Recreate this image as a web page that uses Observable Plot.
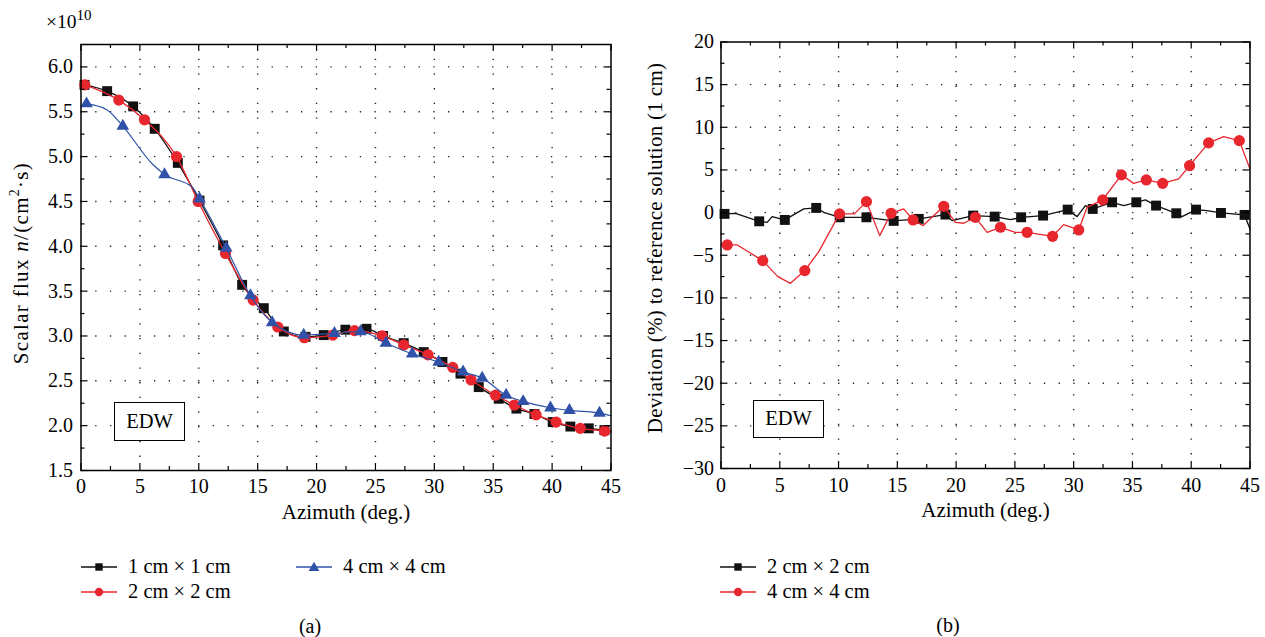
<!DOCTYPE html>
<html><head><meta charset="utf-8">
<script src="https://cdn.jsdelivr.net/npm/d3@7"></script>
<script src="https://cdn.jsdelivr.net/npm/@observablehq/plot@0.6"></script>
<style>
body{margin:0;background:#fff}
#wrap{position:relative;width:1265px;height:637px;overflow:hidden;font-family:"Liberation Serif",serif;color:#000;background:#fff}
.box{position:absolute;border:1.3px solid #000;box-sizing:border-box;display:flex;align-items:center;justify-content:center;font-size:20.5px;background:#fff}
.leg{position:absolute;display:flex;align-items:center;height:24px;font-size:20.5px;white-space:nowrap}
.leg svg{margin-right:11px}
.cap{position:absolute;font-size:20px;transform:translate(-50%,-50%)}
</style></head>
<body><div id="wrap"></div>
<script>
// ---------- (a) Scalar flux (×10^10 n/(cm²·s)) ----------
const az1cmLine   = [0.3,2.22,4.43,6.26,8.22,10.06,12.07,13.68,15.52,17.22,19.06,20.61,22.45,24.24,25.65,27.40,29.10,30.69,32.22,33.77,35.47,36.97,38.50,40.05,41.55,43.11,44.44,45];
const flux1cmLine = [5.80,5.73,5.56,5.31,4.93,4.51,4.01,3.57,3.31,3.05,2.99,3.01,3.07,3.08,3.00,2.92,2.82,2.71,2.58,2.43,2.30,2.19,2.13,2.04,1.99,1.97,1.95,1.94];
const az1cmMk     = [0.3,2.22,4.43,6.26,8.22,10.06,12.07,13.68,15.52,17.22,19.06,20.61,22.45,24.24,25.65,27.40,29.10,30.69,32.22,33.77,35.47,36.97,38.50,40.05,41.55,43.11,44.44];
const flux1cmMk   = [5.80,5.73,5.56,5.31,4.93,4.51,4.01,3.57,3.31,3.05,2.99,3.01,3.07,3.08,3.00,2.92,2.82,2.71,2.58,2.43,2.30,2.19,2.13,2.04,1.99,1.97,1.95];

const az2cmLine   = [0.32,3.21,5.39,8.11,9.95,12.27,14.62,16.71,18.97,21.38,23.22,25.57,27.40,29.46,31.56,33.12,35.19,36.80,38.64,40.34,42.40,44.46,45];
const flux2cmLine = [5.80,5.63,5.41,5.00,4.50,3.92,3.40,3.10,2.98,3.01,3.06,3.00,2.90,2.79,2.65,2.51,2.34,2.23,2.12,2.04,1.97,1.94,1.93];
const az2cmMk     = [0.32,3.21,5.39,8.11,9.95,12.27,14.62,16.71,18.97,21.38,23.22,25.57,27.40,29.46,31.56,33.12,35.19,36.80,38.64,40.34,42.40,44.46];
const flux2cmMk   = [5.80,5.63,5.41,5.00,4.50,3.92,3.40,3.10,2.98,3.01,3.06,3.00,2.90,2.79,2.65,2.51,2.34,2.23,2.12,2.04,1.97,1.94];

const az4cmLine   = [0.47,2.22,3.55,6.04,7.09,9.44,10.06,12.33,14.39,16.23,18.91,21.52,23.73,25.89,28.12,30.37,32.44,34.06,36.10,37.54,39.86,41.47,44.02,45];
const flux4cmLine = [5.59,5.52,5.34,4.92,4.80,4.66,4.53,3.98,3.45,3.15,3.01,3.03,3.05,2.92,2.80,2.71,2.60,2.53,2.34,2.27,2.20,2.17,2.14,2.11];
const az4cmMk     = [0.47,3.55,7.09,10.06,12.33,14.39,16.23,18.91,21.52,23.73,25.89,28.12,30.37,32.44,34.06,36.10,37.54,39.86,41.47,44.02];
const flux4cmMk   = [5.59,5.34,4.80,4.53,3.98,3.45,3.15,3.01,3.03,3.05,2.92,2.80,2.71,2.60,2.53,2.34,2.27,2.20,2.17,2.14];

// ---------- (b) Deviation (%) to reference solution (1 cm) ----------
const azDev2Line  = [0,0.30,1.23,3.25,3.93,4.35,5.43,7.04,8.10,8.74,10.10,12.37,14.69,16.82,19.09,19.66,21.45,23.28,24.62,25.53,27.40,29.49,30.29,31.0,31.62,33.27,34.25,35.33,36.10,37.01,38.73,39.22,40.41,41.34,42.53,44.54,45];
const dev2Line    = [-0.15,-0.15,-0.08,-1.02,-1.14,-0.47,-0.86,0.43,0.55,0.04,-0.55,-0.55,-0.97,-0.74,-0.23,-0.94,-0.35,-0.47,-0.82,-0.55,-0.35,0.35,-0.47,0.82,0.43,1.21,0.82,1.21,1.49,0.82,-0.08,-0.47,0.35,0.23,-0.04,-0.27,-1.91];
const azDev2Mk    = [0.30,3.25,5.43,8.10,10.10,12.37,14.69,16.82,19.09,21.45,23.28,25.53,27.40,29.49,31.62,33.27,35.33,37.01,38.73,40.41,42.53,44.54];
const dev2Mk      = [-0.15,-1.02,-0.86,0.55,-0.55,-0.55,-0.97,-0.74,-0.23,-0.35,-0.47,-0.55,-0.35,0.35,0.43,1.21,1.21,0.82,-0.08,0.35,-0.04,-0.27];

const azDev4Line  = [0,0.53,1.38,3.55,4.83,5.91,7.13,8.32,10.08,11.35,12.37,13.50,14.47,15.54,16.34,17.19,18.95,19.94,20.65,21.64,22.64,23.77,25.04,26.04,28.21,29.15,30.43,31.14,32.47,34.06,35.10,36.18,37.57,38.93,39.86,41.48,42.76,44.09,45];
const dev4Line    = [-3.79,-3.79,-3.79,-5.63,-7.50,-8.29,-6.80,-4.57,-0.15,-0.15,1.29,-2.70,-0.08,0.43,-0.86,-1.52,0.74,-1.14,-1.25,-0.55,-2.31,-1.72,-2.31,-2.31,-2.78,-1.41,-2.03,0.62,1.49,4.42,3.43,3.83,3.43,3.95,5.51,8.17,8.91,8.44,5.12];
const azDev4Mk    = [0.53,3.55,7.13,10.08,12.37,14.47,16.34,18.95,21.64,23.77,26.04,28.21,30.43,32.47,34.06,36.18,37.57,39.86,41.48,44.09];
const dev4Mk      = [-3.79,-5.63,-6.80,-0.15,1.29,-0.08,-0.86,0.74,-0.55,-1.72,-2.31,-2.78,-2.03,1.49,4.42,3.83,3.43,5.51,8.17,8.44];

// ---------- ticks / labels ----------
const xMajor = [0,5,10,15,20,25,30,35,40,45];
const xMinor = [2.5,7.5,12.5,17.5,22.5,27.5,32.5,37.5,42.5];
const xGrid  = [5,10,15,20,25,30,35,40];
const yMajorA = [1.5,2.0,2.5,3.0,3.5,4.0,4.5,5.0,5.5,6.0];
const yMinorA = [1.75,2.25,2.75,3.25,3.75,4.25,4.75,5.25,5.75];
const yGridA  = [2.0,2.5,3.0,3.5,4.0,4.5,5.0,5.5,6.0];
const yMajorB = [-30,-25,-20,-15,-10,-5,0,5,10,15,20];
const yMinorB = [-27.5,-22.5,-17.5,-12.5,-7.5,-2.5,2.5,7.5,12.5,17.5];
const yGridB  = [-25,-20,-15,-10,-5,0,5,10,15];

const seriesA = ["1 cm × 1 cm","2 cm × 2 cm","4 cm × 4 cm"];
const seriesB = ["2 cm × 2 cm","4 cm × 4 cm"];
const xLabel = "Azimuth (deg.)";
const noteText = "EDW";

const BLACK = "#111", RED = "#e8262d", BLUE = "#2f52a8";
const pts = (xs, ys) => xs.map((x, i) => ({x, y: ys[i]}));
const TICK_FS = 20, TITLE_FS = 21;

function frameMarks(fw, fh, yMajor, yMinor) {
  const s = {stroke: "#000", strokeWidth: 1.2};
  return [
    Plot.tickX(xMajor, {x: d => d, insetTop: fh - 7, ...s}),
    Plot.tickX(xMajor, {x: d => d, insetBottom: fh - 7, ...s}),
    Plot.tickX(xMinor, {x: d => d, insetTop: fh - 4, ...s}),
    Plot.tickX(xMinor, {x: d => d, insetBottom: fh - 4, ...s}),
    Plot.tickY(yMajor, {y: d => d, insetRight: fw - 7, ...s}),
    Plot.tickY(yMajor, {y: d => d, insetLeft: fw - 7, ...s}),
    Plot.tickY(yMinor, {y: d => d, insetRight: fw - 4, ...s}),
    Plot.tickY(yMinor, {y: d => d, insetLeft: fw - 4, ...s}),
    Plot.frame({stroke: "#000", strokeWidth: 1.5})
  ];
}
const gridStyle = {stroke: "#222", strokeWidth: 1.4, strokeDasharray: "1.3,13.4", strokeOpacity: 1};

const wrap = document.getElementById("wrap");

// ----- Panel (a) -----
const A = {w: 632, h: 530, ml: 80.5, mr: 21.5, mt: 44, mb: 60};
const plotA = Plot.plot({
  width: A.w, height: A.h,
  marginLeft: A.ml, marginRight: A.mr, marginTop: A.mt, marginBottom: A.mb,
  style: {fontFamily: "Liberation Serif, serif", fontSize: TICK_FS + "px", color: "#000", background: "transparent"},
  x: {domain: [0, 45]},
  y: {domain: [1.5, 6.25]},
  marks: [
    Plot.ruleX(xGrid, {x: d => d, ...gridStyle}),
    Plot.ruleY(yGridA, {y: d => d, ...gridStyle}),
    Plot.axisX({ticks: xMajor, tickSize: 0, tickPadding: 8, tickFormat: d3.format("d"), label: null, fontSize: TICK_FS}),
    Plot.axisY({ticks: yMajorA, tickSize: 0, tickPadding: 8, tickFormat: d3.format(".1f"), label: null, fontSize: TICK_FS}),
    Plot.line(pts(az1cmLine, flux1cmLine), {x: "x", y: "y", stroke: BLACK, strokeWidth: 1.3, curve: "monotone-x"}),
    Plot.dot(pts(az1cmMk, flux1cmMk), {x: "x", y: "y", symbol: "square", r: 5.6, fill: BLACK}),
    Plot.line(pts(az2cmLine, flux2cmLine), {x: "x", y: "y", stroke: RED, strokeWidth: 1.3, curve: "monotone-x"}),
    Plot.dot(pts(az2cmMk, flux2cmMk), {x: "x", y: "y", symbol: "circle", r: 5.6, fill: RED}),
    Plot.line(pts(az4cmLine, flux4cmLine), {x: "x", y: "y", stroke: BLUE, strokeWidth: 1.2, curve: "monotone-x"}),
    Plot.dot(pts(az4cmMk, flux4cmMk), {x: "x", y: "y", symbol: "triangle", r: 4.7, fill: BLUE}),
    ...frameMarks(A.w - A.ml - A.mr, A.h - A.mt - A.mb, yMajorA, yMinorA),
    Plot.text([xLabel], {text: d => d, frameAnchor: "bottom", dy: 48, fontSize: TITLE_FS})
  ]
});
plotA.style.position = "absolute"; plotA.style.left = "0px"; plotA.style.top = "0px";
wrap.appendChild(plotA);

// ----- Panel (b) -----
const B = {w: 633, h: 530, ml: 88.5, mr: 15.5, mt: 41.5, mb: 62};
const plotB = Plot.plot({
  width: B.w, height: B.h,
  marginLeft: B.ml, marginRight: B.mr, marginTop: B.mt, marginBottom: B.mb,
  style: {fontFamily: "Liberation Serif, serif", fontSize: TICK_FS + "px", color: "#000", background: "transparent"},
  x: {domain: [0, 45]},
  y: {domain: [-30, 20]},
  marks: [
    Plot.ruleX(xGrid, {x: d => d, ...gridStyle}),
    Plot.ruleY(yGridB, {y: d => d, ...gridStyle}),
    Plot.axisX({ticks: xMajor, tickSize: 0, tickPadding: 9, tickFormat: d3.format("d"), label: null, fontSize: TICK_FS}),
    Plot.axisY({ticks: yMajorB, tickSize: 0, tickPadding: 7, tickFormat: d3.format("d"), label: null, fontSize: TICK_FS}),
    Plot.line(pts(azDev2Line, dev2Line), {x: "x", y: "y", stroke: BLACK, strokeWidth: 1.3}),
    Plot.dot(pts(azDev2Mk, dev2Mk), {x: "x", y: "y", symbol: "square", r: 5.6, fill: BLACK}),
    Plot.line(pts(azDev4Line, dev4Line), {x: "x", y: "y", stroke: RED, strokeWidth: 1.3}),
    Plot.dot(pts(azDev4Mk, dev4Mk), {x: "x", y: "y", symbol: "circle", r: 5.6, fill: RED}),
    ...frameMarks(B.w - B.ml - B.mr, B.h - B.mt - B.mb, yMajorB, yMinorB),
    Plot.text([xLabel], {text: d => d, frameAnchor: "bottom", dy: 48.7, fontSize: TITLE_FS})
  ]
});
plotB.style.position = "absolute"; plotB.style.left = "632px"; plotB.style.top = "0px";
wrap.appendChild(plotB);

// ----- rotated y labels with rich text -----
function yTitle(svg, cx, cy, parts, ls) {
  const t = d3.select(svg).append("text")
    .attr("transform", `translate(${cx},${cy}) rotate(-90)`)
    .attr("text-anchor", "middle").attr("dominant-baseline", "middle")
    .attr("font-size", TITLE_FS).attr("fill", "#000").attr("letter-spacing", ls + "px");
  for (const p of parts) {
    const s = t.append("tspan").text(p.t);
    if (p.it) s.attr("font-style", "italic");
    if (p.sup) s.attr("baseline-shift", "super").attr("font-size", 14);
  }
}
yTitle(plotA, 23, 263, [{t: "Scalar flux "}, {t: "n", it: true}, {t: "/(cm"}, {t: "2", sup: true}, {t: "·s)"}], 1.3);
yTitle(plotB, 25, 248, [{t: "Deviation (%) to reference solution (1 cm)"}], 0.3);

// ×10^10 exponent
{
  const t = d3.select(plotA).append("text").attr("x", 46).attr("y", 27.5)
    .attr("text-anchor", "start").attr("font-size", 19.5).attr("fill", "#000");
  t.append("tspan").text("×10");
  t.append("tspan").attr("dy", -8).attr("font-size", 15).text("10");
}

// ----- EDW annotation boxes -----
function box(left, top, w, h) {
  const d = document.createElement("div"); d.className = "box";
  Object.assign(d.style, {left: left + "px", top: top + "px", width: w + "px", height: h + "px"});
  d.textContent = noteText; wrap.appendChild(d);
}
box(114, 401.5, 71, 39);
box(753, 399.5, 71, 38);

// ----- legends -----
function symbolSvg(color, symbol) {
  const ns = "http://www.w3.org/2000/svg";
  const s = document.createElementNS(ns, "svg");
  s.setAttribute("width", 36); s.setAttribute("height", 24);
  const l = document.createElementNS(ns, "line");
  l.setAttribute("x1", 0); l.setAttribute("x2", 36); l.setAttribute("y1", 12); l.setAttribute("y2", 12);
  l.setAttribute("stroke", color); l.setAttribute("stroke-width", 1.4);
  s.appendChild(l);
  const p = document.createElementNS(ns, "path");
  p.setAttribute("d", d3.symbol(symbol === "square" ? d3.symbolSquare : symbol === "circle" ? d3.symbolCircle : d3.symbolTriangle, symbol === "triangle" ? 50 : 55)());
  p.setAttribute("transform", symbol === "triangle" ? "translate(18,13)" : "translate(18,12)");
  p.setAttribute("fill", color);
  s.appendChild(p);
  return s;
}
function legendItem(left, cy, color, symbol, label) {
  const d = document.createElement("div"); d.className = "leg";
  d.style.left = left + "px"; d.style.top = (cy - 12) + "px";
  d.appendChild(symbolSvg(color, symbol));
  const sp = document.createElement("span"); sp.textContent = label; d.appendChild(sp);
  wrap.appendChild(d);
}
legendItem(81, 566.5, BLACK, "square", seriesA[0]);
legendItem(81, 591.5, RED, "circle", seriesA[1]);
legendItem(296, 566.5, BLUE, "triangle", seriesA[2]);
legendItem(720, 566.5, BLACK, "square", seriesB[0]);
legendItem(720, 591.5, RED, "circle", seriesB[1]);

// ----- captions -----
function caption(x, y, txt) {
  const d = document.createElement("div"); d.className = "cap";
  d.style.left = x + "px"; d.style.top = y + "px"; d.textContent = txt; wrap.appendChild(d);
}
caption(310, 626, "(a)");
caption(948, 625, "(b)");
</script></body></html>
